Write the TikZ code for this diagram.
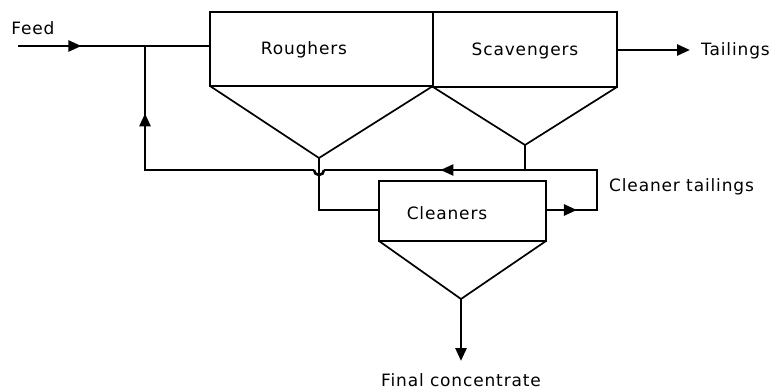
\documentclass[tikz,border=0pt]{standalone}
\usepackage{fontspec}
\setmainfont{DejaVu Sans}[LetterSpace=5]
\usetikzlibrary{arrows.meta,decorations.markings}
\tikzset{
  unitline/.style={line width=1.7pt, line join=miter},
  flow/.style={line width=2.6pt, line join=miter},
  tip/.style={-{Triangle[length=13pt,width=11pt]}},
  midarrow/.style={postaction={decorate},decoration={markings,mark=at position #1 with {\arrow{Triangle[length=13pt,width=11pt]}}}},
  twoarrows/.style 2 args={postaction={decorate},decoration={markings,
     mark=at position #1 with {\arrow{Triangle[length=13pt,width=11pt]}},
     mark=at position #2 with {\arrow{Triangle[length=13pt,width=11pt]}}}},
  lbl/.style={font=\fontsize{17}{20}\selectfont, inner sep=0pt}
}
\begin{document}
\begin{tikzpicture}[x=1pt,y=-1pt]
\useasboundingbox[fill=white] (0,0) rectangle (781,390);
% geometry
\coordinate (Rtl) at (210,12);
\coordinate (Rbr) at (433,86);
\coordinate (Rbl) at (210,86);
\coordinate (Rapex) at (319,158);
\coordinate (Stl) at (433,12);
\coordinate (Sbr) at (617,87);
\coordinate (Sbl) at (433,87);
\coordinate (Sapex) at (525,145);
\coordinate (Ctl) at (379,181);
\coordinate (Cbr) at (546,241);
\coordinate (Cbl) at (379,241);
\coordinate (Capex) at (461,299);
% flow points
\coordinate (feedin) at (18,46);
\coordinate (feedR) at (210,46);
\coordinate (junc) at (145,46);
\coordinate (retcorner) at (145,170);
\coordinate (bridgeL) at (314,170);
\coordinate (bridgeR) at (324,170);
\coordinate (Sjoin) at (525,170);
\coordinate (loopTR) at (597,170);
\coordinate (loopBR) at (597,210);
\coordinate (Cout) at (546,210);
\coordinate (Cin) at (379,210);
\coordinate (Rdown) at (319,210);
\coordinate (tailout) at (617,50);
\coordinate (tailend) at (690,50);
\coordinate (concend) at (461,361);
% units
\draw[unitline] (Rtl) rectangle (Rbr);
\draw[unitline] (Stl) rectangle (Sbr);
\draw[unitline] (Rbl) -- (Rapex) -- (Rbr);
\draw[unitline] (Sbl) -- (Sapex) -- (Sbr);
\draw[unitline] (Ctl) rectangle (Cbr);
\draw[unitline] (Cbl) -- (Capex) -- (Cbr);
% labels
\node[lbl] (feed) at (33,28) {Feed};
\node[lbl] (rough) at (304,50) {Roughers};
\node[lbl] (scav) at (525,51) {Scavengers};
\node[lbl] (clean) at (447,213) {Cleaners};
\node[lbl, anchor=west] (tail) at (701,51) {Tailings};
\node[lbl, anchor=west] (cltail) at (609,187) {Cleaner tailings};
\node[lbl] (final) at (461,380) {Final concentrate};
% flows
\draw[flow, midarrow=0.33] (feedin) -- (feedR);
\draw[flow, tip] (tailout) -- (tailend);
\draw[flow] (Rapex) -- (Rdown) -- (Cin);
\draw[flow] (Sapex) -- (Sjoin);
\draw[flow, twoarrows={0.085}{0.68}] (Cout) -- (loopBR) -- (loopTR) -- (bridgeR);
\draw[flow] (bridgeR) arc[start angle=0, end angle=180, radius=5];
\draw[flow, midarrow=0.77] (bridgeL) -- (retcorner) -- (junc);
\draw[flow, tip] (Capex) -- (concend);
\end{tikzpicture}
\end{document}
